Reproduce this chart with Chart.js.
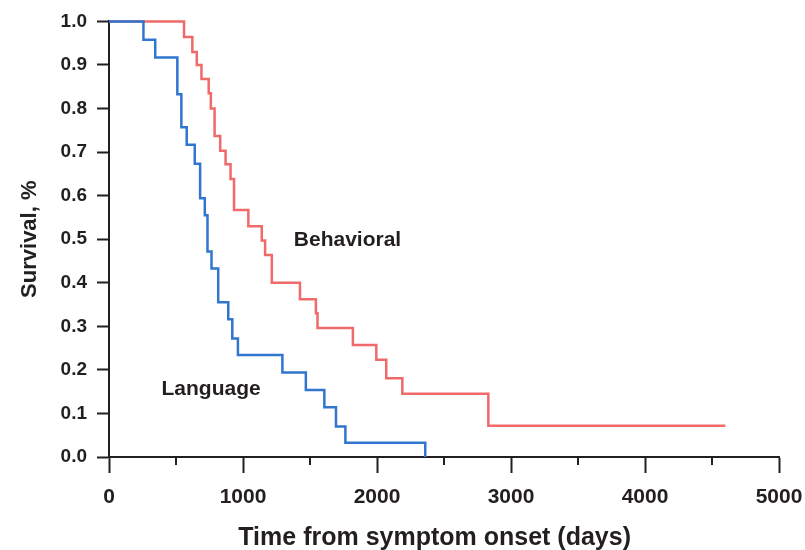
<!DOCTYPE html>
<html>
<head>
<meta charset="utf-8">
<script src="https://cdn.jsdelivr.net/npm/chart.js@4.4.1/dist/chart.umd.min.js"></script>
<style>
  html, body { margin: 0; padding: 0; background: #fff; }
  #wrap { width: 805px; height: 550px; }
</style>
</head>
<body>
<div id="wrap"><canvas id="km" width="805" height="550"></canvas></div>
<script>
// Kaplan-Meier steps: time (days) and survival after that time
const behavioralDays = [0, 560, 622, 655, 690, 744, 760, 788, 830, 870, 907, 933, 1040, 1140, 1165, 1215, 1425, 1544, 1556, 1820, 1995, 2069, 2189, 2831, 4600];
const behavioralSurv = [1.0, 0.964, 0.93, 0.90, 0.868, 0.835, 0.80, 0.737, 0.703, 0.672, 0.638, 0.567, 0.53, 0.497, 0.464, 0.40, 0.362, 0.33, 0.296, 0.257, 0.223, 0.181, 0.145, 0.072, 0.072];

const languageDays = [0, 257, 345, 510, 540, 580, 640, 680, 715, 735, 765, 815, 890, 920, 962, 1294, 1469, 1607, 1694, 1764, 2360];
const languageSurv = [1.0, 0.958, 0.917, 0.833, 0.757, 0.717, 0.673, 0.594, 0.555, 0.472, 0.433, 0.355, 0.316, 0.272, 0.234, 0.194, 0.154, 0.114, 0.07, 0.033, 0.0];

const xTicks = [0, 1000, 2000, 3000, 4000, 5000];
const xMinorTicks = [500, 1500, 2500, 3500, 4500];
const yTicks = [0, 0.1, 0.2, 0.3, 0.4, 0.5, 0.6, 0.7, 0.8, 0.9, 1.0];

// group labels placed next to the curves (data coords)
const groupLabels = [
  { text: "Behavioral", x: 1780, y: 0.498 },
  { text: "Language", x: 762, y: 0.156 },
];
const xTitle = "Time from symptom onset (days)";

const FONT = "'Liberation Sans', Arial, sans-serif";
const INK = "#231f20";

function toPoints(xs, ys) {
  return xs.map((x, i) => ({ x: x, y: ys[i] }));
}

// minor x ticks, curve labels and the x title (sits a bit left of centre in the original)
const extras = {
  id: "extras",
  afterDraw(chart) {
    const ctx = chart.ctx;
    const xs = chart.scales.x, ys = chart.scales.y;
    const y0 = ys.getPixelForValue(0);
    ctx.save();
    ctx.strokeStyle = INK;
    ctx.lineWidth = 2;
    xMinorTicks.forEach(v => {
      const px = Math.round(xs.getPixelForValue(v));
      ctx.beginPath();
      ctx.moveTo(px, y0);
      ctx.lineTo(px, y0 + 8);
      ctx.stroke();
    });
    ctx.fillStyle = INK;
    ctx.font = "bold 21px " + FONT;
    ctx.textAlign = "center";
    ctx.textBaseline = "middle";
    groupLabels.forEach(l => {
      ctx.fillText(l.text, xs.getPixelForValue(l.x), ys.getPixelForValue(l.y));
    });
    ctx.font = "bold 25px " + FONT;
    ctx.fillText(xTitle, xs.getPixelForValue(2430), xs.bottom - 12);
    ctx.restore();
  }
};

new Chart(document.getElementById("km"), {
  type: "line",
  data: {
    datasets: [
      {
        label: "Language",
        data: toPoints(languageDays, languageSurv),
        borderColor: "rgb(48,118,206)",
        borderWidth: 2.5,
        stepped: "before",
        pointRadius: 0,
        clip: false,
        fill: false
      },
      {
        label: "Behavioral",
        data: toPoints(behavioralDays, behavioralSurv),
        borderColor: "rgb(240,106,106)",
        borderWidth: 2.5,
        stepped: "before",
        pointRadius: 0,
        clip: false,
        fill: false
      }
    ]
  },
  options: {
    responsive: false,
    animation: false,
    layout: { padding: { left: 0, right: 0, top: 21, bottom: 0 } },
    plugins: { legend: { display: false }, tooltip: { enabled: false } },
    scales: {
      x: {
        type: "linear",
        min: 0,
        max: 5000,
        afterFit: s => { s.height = 93; s.paddingLeft = 0; s.paddingRight = 26; },
        afterBuildTicks: s => { s.ticks = xTicks.map(v => ({ value: v })); },
        grid: { display: true, drawOnChartArea: false, tickLength: 16, tickWidth: 2, tickColor: INK },
        border: { display: true, color: INK, width: 2 },
        ticks: { color: INK, font: { family: FONT, size: 21, weight: "bold" }, padding: 12, maxRotation: 0, callback: v => String(v) },
        title: { display: false }
      },
      y: {
        min: 0,
        max: 1,
        afterFit: s => { s.width = 109; },
        afterBuildTicks: s => { s.ticks = yTicks.map(v => ({ value: v })); },
        grid: { display: true, drawOnChartArea: false, tickLength: 12, tickWidth: 2, tickColor: INK },
        border: { display: true, color: INK, width: 2 },
        ticks: { color: INK, font: { family: FONT, size: 19, weight: "bold" }, padding: 10, callback: v => v.toFixed(1) },
        title: { display: true, text: "Survival, %", color: INK, font: { family: FONT, size: 22, weight: "bold" }, padding: { top: 17, bottom: 0 } }
      }
    }
  },
  plugins: [extras]
});
</script>
</body>
</html>
